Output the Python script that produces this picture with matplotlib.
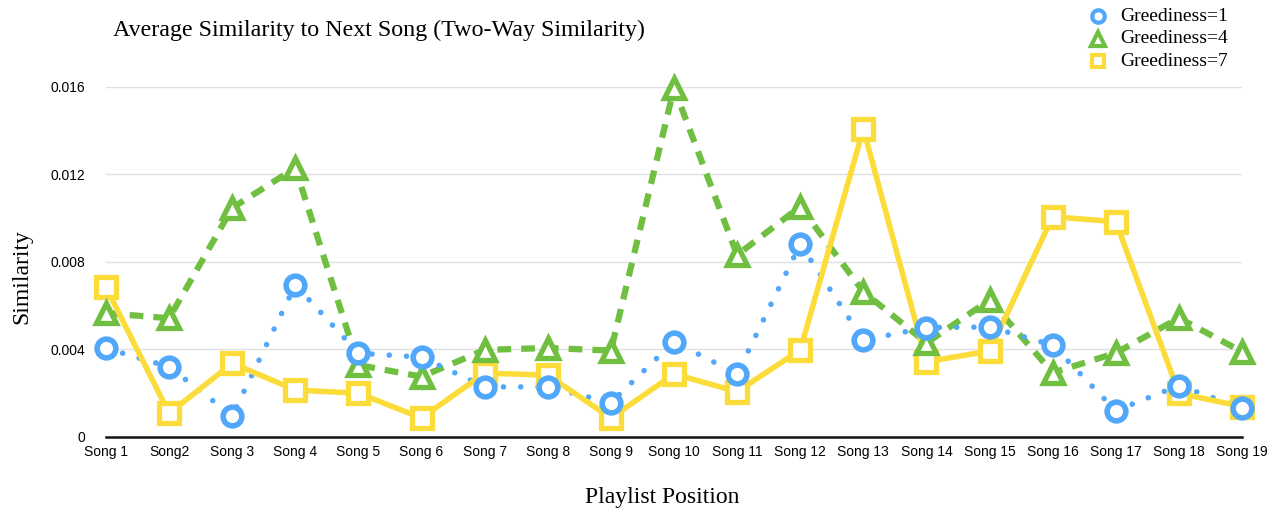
import matplotlib.pyplot as plt

songs = ['Song 1', 'Song2', 'Song 3', 'Song 4', 'Song 5', 'Song 6', 'Song 7', 'Song 8', 'Song 9',
         'Song 10', 'Song 11', 'Song 12', 'Song 13', 'Song 14', 'Song 15', 'Song 16', 'Song 17',
         'Song 18', 'Song 19']
greedy_1 = [0.00405, 0.00321, 0.00097, 0.00695, 0.00383, 0.00365, 0.00229, 0.00229, 0.00157, 0.00436,
            0.00288, 0.00882, 0.00443, 0.00500, 0.00503, 0.00420, 0.00120, 0.00235, 0.00133]
greedy_4 = [0.00566, 0.00543, 0.01047, 0.01230, 0.00329, 0.00276, 0.00398, 0.00407, 0.00395, 0.01595,
            0.00832, 0.01053, 0.00664, 0.00430, 0.00626, 0.00294, 0.00384, 0.00544, 0.00390]
greedy_7 = [0.00684, 0.00108, 0.00337, 0.00215, 0.00200, 0.00087, 0.00292, 0.00283, 0.00087, 0.00288,
            0.00207, 0.00398, 0.01408, 0.00344, 0.00393, 0.01007, 0.00984, 0.00200, 0.00139]
y_ticks = [0, 0.004, 0.008, 0.012, 0.016]
y_tick_labels = ['0', '0.004', '0.008', '0.012', '0.016']

blue = '#51A7F9'
green = '#70BF41'
yellow = '#FCDC3B'
serif = 'Liberation Serif'
sans = 'Liberation Sans'

fig = plt.figure(figsize=(12.71, 5.12), dpi=100)
ax = fig.add_axes([0.0834, 0.1465, 0.8938, 0.6836])
x = list(range(len(songs)))

# lines first, markers on top
ax.plot(x, greedy_4, color=green, lw=4.5, linestyle=(0, (2.2, 1.6)), zorder=2, clip_on=False)
ax.plot(x, greedy_1, color=blue, lw=4, linestyle=(0, (0.01, 3.1)), dash_capstyle='round',
        solid_capstyle='round', zorder=2, clip_on=False)
ax.plot(x, greedy_7, color=yellow, lw=4, zorder=3, clip_on=False)

ax.plot(x, greedy_7, linestyle='none', marker='s', ms=14, mfc='white', mec=yellow, mew=3.8,
        zorder=4, clip_on=False)
ax.plot(x, greedy_4, linestyle='none', marker='^', ms=15, mfc='white', mec=green, mew=3.8,
        zorder=5, clip_on=False)
ax.plot(x, greedy_1, linestyle='none', marker='o', ms=13.5, mfc='white', mec=blue, mew=4,
        zorder=6, clip_on=False)

ax.set_xlim(0, len(songs) - 1)
ax.set_ylim(0, 0.016)
ax.set_xticks(x)
ax.set_xticklabels(songs, fontfamily=sans, fontsize=10)
ax.set_yticks(y_ticks)
ax.set_yticklabels(y_tick_labels, fontfamily=sans, fontsize=10)
ax.tick_params(axis='both', length=0)
ax.tick_params(axis='y', pad=15)
ax.tick_params(axis='x', pad=6)
ax.grid(axis='y', color='#E0E0E0', lw=1)
ax.set_axisbelow(True)
for side in ['top', 'right', 'left']:
    ax.spines[side].set_visible(False)
ax.spines['bottom'].set_linewidth(1.8)
ax.spines['bottom'].set_color('#111111')

ax.set_ylabel('Similarity', fontfamily=serif, fontsize=17)
ax.yaxis.set_label_coords(-0.065, 0.457)
ax.set_xlabel('Playlist Position', fontfamily=serif, fontsize=17)
ax.xaxis.set_label_coords(0.49, -0.143)
fig.text(0.089, 0.94, 'Average Similarity to Next Song (Two-Way Similarity)', fontfamily=serif,
         fontsize=17.3, va='center', ha='left')

# legend drawn by hand at top right
legend_items = [('Greediness=1', 'o', blue, 9), ('Greediness=4', '^', green, 10),
                ('Greediness=7', 's', yellow, 9)]
for i, (label, mk, col, size) in enumerate(legend_items):
    yy = 0.968 - i * 0.044
    fig.lines.append(plt.Line2D([0.8635], [yy], marker=mk, ms=size, mfc='white', mec=col, mew=3,
                                transform=fig.transFigure, linestyle='none'))
    fig.text(0.881, yy, label, fontfamily=serif, fontsize=14, va='center', ha='left')

fig.savefig('out.png', dpi=100, facecolor='white')
